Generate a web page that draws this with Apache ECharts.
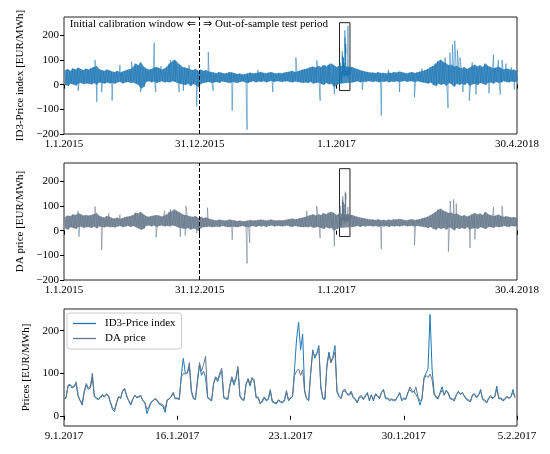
<!DOCTYPE html>
<html><head><meta charset="utf-8">
<script src="https://cdn.jsdelivr.net/npm/echarts@6/dist/echarts.min.js"></script>
<style>html,body{margin:0;padding:0;background:#fff}#c{width:550px;height:454px}</style>
</head><body><div id="c"></div>
<script>
// ---------- tick labels ----------
const longTickDays = [0, 364, 731, 1215];
const longTickLabels = ['1.1.2015', '31.12.2015', '1.1.2017', '30.4.2018'];
const zoomTickDays = [0, 7, 14, 21, 28];
const zoomTickLabels = ['9.1.2017', '16.1.2017', '23.1.2017', '30.1.2017', '5.2.2017'];
const splitDay = 364;          // end of calibration window
const zoomStartDay = 739;      // 9.1.2017 (days since 1.1.2015)
const zoomEndDay = 767;
const zoomHours = [0, 3, 6, 9, 12, 15, 18, 21];

// ---------- zoom window, 9.1.2017 - 5.2.2017 (per day, 3-hourly) ----------
const id3Zoom = [
 [40,42,70,72,65,68,75,45],[35,25,55,72,62,65,90,45],[40,38,42,48,44,50,45,30],[15,10,30,45,40,58,62,45],
 [35,25,38,48,42,44,46,35],[30,5,18,30,35,40,36,28],[25,22,8,35,40,45,55,40],[40,38,95,135,100,100,115,55],
 [40,38,80,118,95,105,90,42],[38,35,75,90,80,95,105,42],[40,38,70,88,72,85,110,45],[38,36,75,85,70,88,80,42],
 [42,28,32,42,35,38,58,32],[30,28,36,32,30,35,55,35],[42,45,110,180,220,155,192,60],[40,35,100,155,135,145,165,65],
 [40,38,120,150,125,140,165,55],[45,40,60,62,50,48,55,42],[38,30,42,45,38,45,55,35],[50,35,50,45,40,55,62,40],
 [40,35,38,35,36,45,55,35],[40,38,55,62,55,58,50,42],[25,40,90,100,110,238,110,55],[42,40,55,68,48,60,52,40],
 [38,35,48,58,50,55,45,38],[35,33,48,50,42,48,62,38],[35,30,40,45,40,45,70,40],[40,35,38,45,40,45,62,42]
];
const daZoom = [
 [40,42,72,74,68,70,80,48],[36,30,58,76,66,68,100,48],[42,40,45,50,46,52,48,32],[18,15,32,45,42,60,65,48],
 [36,28,40,48,44,46,48,36],[32,15,22,32,36,40,38,30],[28,25,15,38,40,45,52,42],[42,40,90,100,98,102,125,60],
 [42,40,85,125,105,120,140,45],[40,38,78,92,85,100,112,45],[42,40,72,92,78,90,116,48],[40,38,72,88,75,90,85,45],
 [44,30,35,45,38,40,62,35],[32,30,38,34,32,38,60,38],[42,45,95,105,110,95,108,55],[40,38,105,150,140,148,158,70],
 [42,40,115,145,125,135,150,58],[48,42,58,58,52,50,58,45],[40,32,45,48,40,48,52,38],[48,38,52,48,42,55,60,42],
 [42,38,40,38,38,45,52,38],[42,40,52,68,60,55,68,45],[35,40,85,95,90,98,85,50],[45,42,52,60,50,58,55,42],
 [40,38,50,56,52,52,48,40],[38,35,50,52,45,50,58,40],[38,32,42,48,42,45,62,42],[42,38,40,46,42,45,55,44]
];

// ---------- full period, weekly upper / lower band (week i = days 7i..7i+6) ----------
const id3WeekHi = [
 58,62,55,65,60,68,62,58,64, 60,66,70,75,62,58,55,60,57, 52,50,55,48,52,56,60,62, 70,85,78,90,72,
 65,60,62,68,70,66,60,64,72, 85,95,100,88,80, 70,68,65,60,58,62,55,
 60,55,58,52,50, 48,45,50,47,44,46,50,48, 45,42,44,40,42,45,48,44,46, 48,50,47,45,48,50,46,44,47,
 45,48,50,52,55,50,53,56,60, 62,65,70,72,68,75,70,78,72,80,85,78,70,
 75, null,null,null,null, 70,65,62,58,55,52,50,48, 48,46,50,45,47,44,48,46,50, 48,52,50,47,45,48,50,46,49,
 52,55,58,62,70,75,85,95, 100,90,85,78,80,72,75,68, 65,70,62,68,75,80,72,78,70,
 85,75,70,65,68,72,66,60,64,62,58,60,55
];
const id3WeekLo = [
 0,-5,5,2,-3,5,8,3,6, 5,2,8,0,10,8,5,10,6, 8,5,10,12,6,10,12,8, 10,5,0,-15,-10,
 12,15,10,14,8,12,15,10,12, 10,15,12,8,5, 2,0,5,-5,3,0,-10,
 5,8,10,12,8, 10,12,8,14,12,10,8,12, 10,8,12,14,10,8,12,15,10, 14,12,15,10,14,16,12,15,14,
 12,14,15,12,10,14,12,10,8, 10,8,12,5,8,10,5,0,8,2,5,-10,0,
 5, null,null,null,null, 10,12,15,10,14,12,15,14, 12,15,10,14,12,15,10,14,12, 15,12,14,16,12,15,14,12,15,
 12,10,8,5,10,0,-5,5, 0,5,-5,8,2,-8,5,0, 5,0,8,-5,2,5,0,8,5,
 0,8,10,5,12,8,10,15,12,10,14,12,15
];
const daWeekHi = [
 55,60,58,65,62,70,65,60,62, 60,62,66,70,60,55,52,58,55, 50,48,52,46,50,54,56,58, 62,72,68,75,65,
 58,55,58,60,62,60,56,60,65, 75,80,85,78,72, 65,62,60,56,55,58,50,
 55,50,52,48,45, 42,40,44,42,40,41,44,42, 40,38,40,37,38,40,42,40,41, 42,44,42,40,42,44,41,40,42,
 40,42,44,46,48,45,47,50,52, 55,58,62,65,60,66,62,70,65,72,75,70,62,
 68, null,null,null,null, 62,58,55,52,50,48,46,44, 44,42,45,41,43,40,44,42,45, 44,46,45,42,41,44,45,42,44,
 46,50,52,56,62,68,75,85, 88,80,75,70,72,65,68,62, 58,62,56,60,66,70,64,68,62,
 75,66,62,58,60,64,58,55,57,55,52,54,50
];
const daWeekLo = [
 10,5,15,12,8,15,18,12,15, 15,12,18,10,18,16,14,18,15, 16,14,18,20,15,18,20,16, 20,15,10,5,8,
 20,22,18,22,16,20,22,18,20, 18,22,20,15,12, 10,8,12,5,10,8,0,
 12,15,16,18,15, 16,18,15,20,18,16,15,18, 16,15,18,20,16,15,18,20,16, 20,18,20,16,20,22,18,20,20,
 18,20,22,18,16,20,18,16,15, 16,15,18,12,15,16,12,8,15,10,12,0,8,
 12, null,null,null,null, 16,18,20,16,20,18,20,20, 18,20,16,20,18,20,16,20,18, 20,18,20,22,18,20,20,18,20,
 18,16,15,12,16,8,5,12, 8,12,5,15,10,2,12,8, 12,8,15,5,10,12,8,15,12,
 8,15,16,12,18,15,16,20,18,16,20,18,20
];

// ---------- isolated hourly spikes [day, value] ----------
const id3Spikes = [
 [38,-25],[83,100],[88,-70],[101,-30],[129,-65],[150,80],[181,93],[205,-30],[242,170],[246,-30],[260,75],
 [285,100],[300,95],[309,-30],[320,-25],[335,80],[356,-88],
 [387,132],[400,-25],[451,-105],[491,-183],[520,60],[560,-30],[622,110],[660,75],[678,98],[687,-65],
 [700,80],[712,85],[725,-38],
 [780,70],[800,-20],[851,-125],[870,60],[900,-30],[940,-50],[960,65],[1000,75],[1022,110],[1030,-95],
 [1035,130],[1042,162],[1048,178],[1055,140],[1062,110],[1070,-30],[1087,-65],[1095,90],[1105,-40],
 [1120,70],[1140,-35],[1152,120],[1165,100],[1170,-40],[1175,100],[1185,85],[1200,70],[1208,-20]
];
const daSpikes = [
 [38,80],[40,-25],[83,98],[101,-78],[120,70],[150,65],[247,-28],[270,80],[285,86],[312,-25],[325,-20],
 [327,100],[356,-10],
 [385,93],[451,-37],[491,-133],[498,-50],[651,80],[678,100],[687,-30],[725,-64],
 [851,-75],[940,-60],[1031,-85],[1036,120],[1045,127],[1052,110],[1089,-70],[1102,-35],[1152,95],[1175,100]
];

// ---------- build series from the arrays ----------
function zoomPoints(vals, offset) {
  const out = [];
  vals.forEach((day, d) => day.forEach((v, k) => out.push([offset + d + zoomHours[k] / 24, v])));
  return out;
}
function longPoints(hi, lo, spikes, zoomVals) {
  const pts = [];
  const inZoom = x => x >= zoomStartDay && x < zoomEndDay;
  hi.forEach((h, i) => {
    if (h == null) return;
    const a = 7 * i + 1.5, b = 7 * i + 5;
    if (!inZoom(a)) pts.push([a, h]);
    if (!inZoom(b)) pts.push([b, lo[i]]);
  });
  spikes.forEach(s => pts.push([s[0], s[1]]));
  zoomPoints(zoomVals, zoomStartDay).forEach(p => pts.push(p));
  pts.sort((p, q) => p[0] - q[0]);
  return pts;
}
// band rows [day, lo, hi] for a custom polygon
function bandRows(hi, lo) {
  const out = [];
  hi.forEach((h, i) => { if (h != null) out.push([Math.min(7 * i + 3.5, 1215), lo[i], h]); });
  return out;
}

const ID3C = '#1f77b4', DAC = '#65768a';
const FF = "'Liberation Serif','DejaVu Serif',serif";
const tStyle = { fontFamily: FF, fontSize: 11, color: '#000' };
const minus = v => String(v).replace('-', '\u2212');

function xAx(idx, min, max, days, labels) {
  return {
    type: 'value', gridIndex: idx, min: min, max: max,
    axisLine: { show: false },
    axisTick: { show: true, length: 4, customValues: days, lineStyle: { color: '#000', width: 1 } },
    axisLabel: Object.assign({ customValues: days, margin: 5, formatter: v => labels[days.indexOf(v)] }, tStyle),
    splitLine: { show: false }
  };
}
function yAx(idx, min, max, ticks, name, gap) {
  return {
    type: 'value', gridIndex: idx, min: min, max: max,
    name: name, nameLocation: 'middle', nameGap: gap, nameTextStyle: tStyle,
    axisLine: { show: false },
    axisTick: { show: true, length: 4, customValues: ticks, lineStyle: { color: '#000', width: 1 } },
    axisLabel: Object.assign({ customValues: ticks, margin: 5, formatter: minus }, tStyle),
    splitLine: { show: false }
  };
}
const gridBase = { left: 64, right: 33, height: 117, show: true, borderColor: '#222', borderWidth: 1, backgroundColor: 'transparent' };
const boxArea = {
  silent: true,
  itemStyle: { color: 'rgba(0,0,0,0)', borderColor: '#222', borderWidth: 1 },
  data: [[{ xAxis: zoomStartDay, yAxis: -24 }, { xAxis: zoomEndDay, yAxis: 251 }]]
};
const splitLineMark = {
  silent: true, symbol: ['none', 'none'], label: { show: false },
  lineStyle: { type: [4, 2], color: '#000', width: 1 },
  data: [{ xAxis: splitDay }]
};
function bandSeries(idx, hi, lo, color) {
  const rows = bandRows(hi, lo);
  return {
    type: 'custom', xAxisIndex: idx, yAxisIndex: idx, silent: true, z: 1,
    data: [[rows[0][0], rows[0][1]]],
    renderItem: function (params, api) {
      const top = rows.map(r => api.coord([r[0], r[2]]));
      const bot = rows.map(r => api.coord([r[0], r[1]])).reverse();
      return {
        type: 'polygon', shape: { points: top.concat(bot) },
        style: { fill: color, opacity: 0.82, stroke: color, lineWidth: 0.5 }
      };
    }
  };
}

const chart = echarts.init(document.getElementById('c'), null, { renderer: 'canvas' });
chart.setOption({
  animation: false,
  grid: [
    Object.assign({ top: 17 }, gridBase),
    Object.assign({ top: 163 }, gridBase),
    Object.assign({ top: 309 }, gridBase)
  ],
  xAxis: [
    xAx(0, 0, 1215, longTickDays, longTickLabels),
    xAx(1, 0, 1215, longTickDays, longTickLabels),
    xAx(2, 0, 28, zoomTickDays, zoomTickLabels)
  ],
  yAxis: [
    yAx(0, -200, 274, [-200, -100, 0, 100, 200], 'ID3-Price index [EUR/MWh]', 35),
    yAx(1, -200, 274, [-200, -100, 0, 100, 200], 'DA price [EUR/MWh]', 35),
    yAx(2, -24, 251, [0, 100, 200], 'Prices [EUR/MWh]', 27)
  ],
  legend: {
    data: [{ name: 'ID3-Price index', icon: 'rect' }, { name: 'DA price', icon: 'rect' }],
    orient: 'vertical', left: 67, top: 313,
    itemWidth: 23, itemHeight: 1.3, itemGap: 4, padding: [5, 6, 5, 6],
    borderColor: '#ccc', borderWidth: 1, borderRadius: 3, backgroundColor: 'rgba(255,255,255,0.85)',
    textStyle: Object.assign({ padding: [0, 0, 0, 4] }, tStyle)
  },
  graphic: [
    { type: 'text', x: 196, y: 24, z: 100, style: {
        text: '{a|Initial calibration window }{b|\u21D0}', fill: '#000', align: 'right', verticalAlign: 'middle',
        rich: { a: { fontFamily: FF, fontSize: 11 }, b: { fontFamily: 'DejaVu Sans', fontSize: 11 } } } },
    { type: 'text', x: 203, y: 24, z: 100, style: {
        text: '{b|\u21D2}{a| Out-of-sample test period}', fill: '#000', align: 'left', verticalAlign: 'middle',
        rich: { a: { fontFamily: FF, fontSize: 11 }, b: { fontFamily: 'DejaVu Sans', fontSize: 11 } } } }
  ],
  series: [
    bandSeries(0, id3WeekHi, id3WeekLo, ID3C),
    bandSeries(1, daWeekHi, daWeekLo, DAC),
    { name: 'ID3 full', type: 'line', xAxisIndex: 0, yAxisIndex: 0, symbol: 'none', z: 2,
      data: longPoints(id3WeekHi, id3WeekLo, id3Spikes, id3Zoom),
      lineStyle: { color: ID3C, width: 0.55 }, markLine: splitLineMark, markArea: boxArea },
    { name: 'DA full', type: 'line', xAxisIndex: 1, yAxisIndex: 1, symbol: 'none', z: 2,
      data: longPoints(daWeekHi, daWeekLo, daSpikes, daZoom),
      lineStyle: { color: DAC, width: 0.55 }, markLine: splitLineMark, markArea: boxArea },
    { name: 'ID3-Price index', type: 'line', xAxisIndex: 2, yAxisIndex: 2, symbol: 'none',
      data: zoomPoints(id3Zoom, 0), itemStyle: { color: ID3C }, lineStyle: { color: ID3C, width: 1 } },
    { name: 'DA price', type: 'line', xAxisIndex: 2, yAxisIndex: 2, symbol: 'none',
      data: zoomPoints(daZoom, 0), itemStyle: { color: DAC }, lineStyle: { color: DAC, width: 1 } }
  ]
});
</script>
</body></html>
